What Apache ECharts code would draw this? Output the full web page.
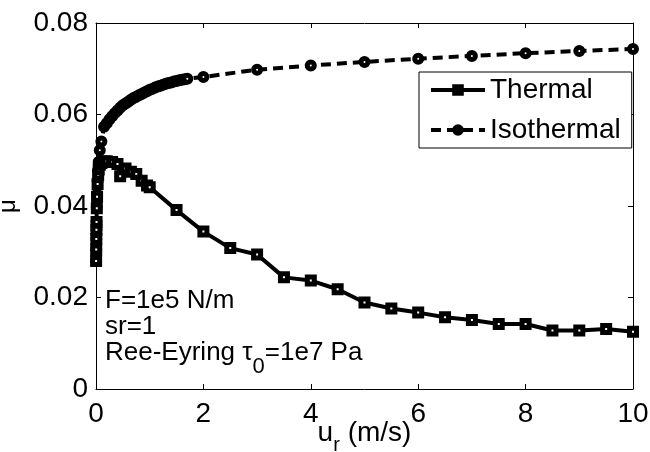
<!DOCTYPE html>
<html>
<head>
<meta charset="utf-8">
<script src="https://cdn.jsdelivr.net/npm/echarts@6/dist/echarts.min.js"></script>
<style>
  html, body { margin: 0; padding: 0; background: #fff; }
  #chart { width: 650px; height: 452px; }
</style>
</head>
<body>
<div id="chart"></div>
<script>
// Sliding speed u_r (m/s) and traction coefficient for the two models
var thermalX = [0.002, 0.004, 0.006, 0.008, 0.01, 0.015, 0.02, 0.03, 0.04, 0.05, 0.07, 0.1,
  0.15, 0.2, 0.3, 0.4, 0.45, 0.55, 0.65, 0.75, 0.85, 0.95, 1.0, 1.5,
  2, 2.5, 3, 3.5, 4, 4.5, 5, 5.5, 6, 6.5, 7, 7.5, 8, 8.5, 9, 9.5, 10];
var thermalMu = [0.028, 0.0305, 0.0328, 0.0348, 0.0365, 0.0395, 0.042, 0.0448, 0.0468, 0.048, 0.049, 0.0494,
  0.0497, 0.0498, 0.0496, 0.0492, 0.0465, 0.0482, 0.0475, 0.047, 0.0455, 0.0445, 0.0441, 0.0391,
  0.0344, 0.0308, 0.0294, 0.0244, 0.0237, 0.0218, 0.0189, 0.0176, 0.0167, 0.0157, 0.0151, 0.0142, 0.0142, 0.0128, 0.0128, 0.0131, 0.0125];

var isoX = [0.002, 0.004, 0.006, 0.008, 0.01, 0.015, 0.02, 0.03, 0.04, 0.05, 0.07, 0.1,
  0.15, 0.2, 0.25, 0.3, 0.35, 0.4, 0.45, 0.5, 0.55, 0.6, 0.65, 0.7, 0.75, 0.8, 0.85, 0.9, 0.95, 1.0,
  1.05, 1.1, 1.15, 1.2, 1.25, 1.3, 1.35, 1.4, 1.45, 1.5, 1.55, 1.6, 1.65, 1.7,
  2, 3, 4, 5, 6, 7, 8, 9, 10];
var isoMu = [0.028, 0.0305, 0.0328, 0.0348, 0.0366, 0.0398, 0.0425, 0.0455, 0.0478, 0.0496, 0.0522, 0.0541,
  0.0573, 0.0581, 0.0589, 0.0596, 0.0603, 0.0609, 0.0615, 0.062, 0.0624, 0.0628, 0.0632, 0.0636, 0.0639, 0.0642, 0.0645, 0.0648, 0.0651, 0.0654,
  0.0656, 0.0659, 0.0661, 0.0663, 0.0665, 0.0667, 0.0669, 0.067, 0.0672, 0.0673, 0.0675, 0.0676, 0.0677, 0.0678,
  0.0682, 0.0698, 0.0707, 0.0715, 0.0722, 0.0728, 0.0734, 0.0739, 0.0743];

var seriesNames = ['Thermal', 'Isothermal'];
var noteLines = ['F=1e5 N/m', 'sr=1'];

var FONT = 'Liberation Sans, Arial, Helvetica, sans-serif';
var FS = 28;

function pairs(xs, ys) {
  return xs.map(function (x, i) { return [x, ys[i]]; });
}

var measureCtx = document.createElement('canvas').getContext('2d');
function textWidth(str, size) {
  measureCtx.font = size + 'px ' + FONT;
  return measureCtx.measureText(str).width;
}

var grid = { left: 96, right: 17, top: 23, bottom: 63, containLabel: false, outerBoundsMode: 'none' };
var plotCenterX = grid.left + (650 - grid.left - grid.right) / 2;

// x-axis title: u with subscript r, then units
var nameMain = 'u', nameSub = 'r', nameRest = ' (m/s)';
var subFS = 20;
var wU = textWidth(nameMain, FS), wR = textWidth(nameSub, subFS), wRest = textWidth(nameRest, FS);
var nameX0 = plotCenterX - (wU + wR + wRest) / 2;
var nameBase = 447;

// third annotation line with subscript
var reeA = 'Ree-Eyring \u03c4', reeSub = '0', reeB = '=1e7 Pa';
var wReeA = textWidth(reeA, FS - 2), wReeSub = textWidth(reeSub, 22);
var noteX = 105;

function txt(str, x, baseline, size) {
  return {
    type: 'text', x: x, y: baseline,
    style: { text: str, font: size + 'px ' + FONT, fill: '#000', verticalAlign: 'bottom', align: 'left' },
    silent: true
  };
}

var chart = echarts.init(document.getElementById('chart'), null, { renderer: 'canvas' });

var axisCommon = {
  axisLine: { show: true, onZero: false, lineStyle: { color: '#000', width: 1 } },
  axisTick: { show: true, inside: true, length: 5, lineStyle: { color: '#000' } },
  splitLine: { show: false }
};

var legendIcon = {
  itemStyle: { color: '#000', borderColor: '#000', borderWidth: 2 },
  lineStyle: { width: 4, color: '#000' }
};

chart.setOption({
  animation: false,
  backgroundColor: '#fff',
  grid: grid,
  legend: {
    data: [
      Object.assign({ name: seriesNames[0] }, legendIcon),
      Object.assign({ name: seriesNames[1] }, legendIcon)
    ],
    orient: 'vertical',
    left: 419,
    top: 72,
    padding: [3, 11, 3, 10],
    itemGap: 10,
    itemWidth: 54,
    itemHeight: 12,
    backgroundColor: '#fff',
    borderColor: '#000',
    borderWidth: 1,
    borderRadius: 0,
    textStyle: { fontFamily: FONT, fontSize: FS, color: '#000', lineHeight: 30 }
  },
  xAxis: [
    Object.assign({
      type: 'value', min: 0, max: 10, interval: 2, position: 'bottom',
      axisLabel: { fontFamily: FONT, fontSize: FS, color: '#000', margin: 11 }
    }, axisCommon),
    Object.assign({
      type: 'value', min: 0, max: 10, interval: 2, position: 'top',
      axisLabel: { show: false }
    }, axisCommon)
  ],
  yAxis: [
    Object.assign({
      type: 'value', min: 0, max: 0.08, interval: 0.02, position: 'left',
      name: '\u03bc', nameLocation: 'middle', nameGap: 76, nameRotate: 90,
      nameTextStyle: { fontFamily: FONT, fontSize: 24, color: '#000' },
      axisLabel: {
        fontFamily: FONT, fontSize: FS, color: '#000', margin: 8,
        formatter: function (v) { return v === 0 ? '0' : v.toFixed(2); }
      }
    }, axisCommon),
    Object.assign({
      type: 'value', min: 0, max: 0.08, interval: 0.02, position: 'right',
      axisLabel: { show: false }
    }, axisCommon)
  ],
  series: [
    {
      name: seriesNames[0], type: 'line', xAxisIndex: 0, yAxisIndex: 0,
      data: pairs(thermalX, thermalMu),
      symbol: 'rect', symbolSize: 7, showAllSymbol: true,
      lineStyle: { color: '#000', width: 4 },
      itemStyle: { color: '#fff', borderColor: '#000', borderWidth: 5 },
      z: 3
    },
    {
      name: seriesNames[1], type: 'line', xAxisIndex: 0, yAxisIndex: 0,
      data: pairs(isoX, isoMu),
      symbol: 'circle', symbolSize: 7, showAllSymbol: true,
      lineStyle: { color: '#000', width: 4, type: [10, 6] },
      itemStyle: { color: '#fff', borderColor: '#000', borderWidth: 5 },
      z: 2
    }
  ],
  graphic: [
    txt(noteLines[0], noteX, 314, FS - 2),
    txt(noteLines[1], noteX, 340, FS - 2),
    txt(reeA, noteX, 366, FS - 2),
    txt(reeSub, noteX + wReeA, 378, 22),
    txt(reeB, noteX + wReeA + wReeSub, 366, FS - 2),
    txt(nameMain, nameX0, nameBase, FS),
    txt(nameSub, nameX0 + wU, nameBase + 8, subFS),
    txt(nameRest, nameX0 + wU + wR, nameBase, FS)
  ]
});
</script>
</body>
</html>
